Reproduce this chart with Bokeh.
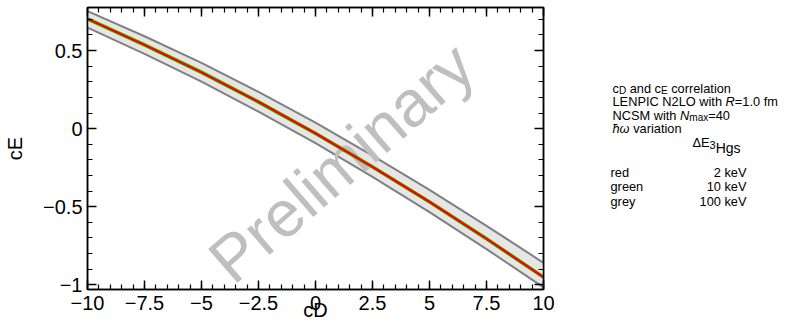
import math
import numpy as np
from bokeh.plotting import figure
from bokeh.layouts import row
from bokeh.models import Range1d, FixedTicker, LinearAxis, ColumnDataSource
from bokeh.core.properties import value
from bokeh.embed import file_html
from bokeh.resources import INLINE

# ---------------- data ----------------
cD = [-10, -7.5, -5, -2.5, 0, 2.5, 5, 7.5, 10]
cE_red = [0.703, 0.537, 0.361, 0.171, -0.030, -0.245, -0.469, -0.705, -0.951]
green_upper = [0.717, 0.551, 0.375, 0.185, -0.016, -0.231, -0.455, -0.691, -0.937]
green_lower = [0.689, 0.523, 0.347, 0.157, -0.044, -0.259, -0.483, -0.719, -0.965]
grey_upper = [0.753, 0.592, 0.421, 0.235, 0.038, -0.173, -0.392, -0.622, -0.859]
grey_lower = [0.647, 0.479, 0.301, 0.109, -0.093, -0.309, -0.534, -0.771, -1.017]

xtick_values = [-10, -7.5, -5, -2.5, 0, 2.5, 5, 7.5, 10]
xtick_labels = ["\u221210", "\u22127.5", "\u22125", "\u22122.5", "0", "2.5", "5", "7.5", "10"]
ytick_values = [-1, -0.5, 0, 0.5]
ytick_labels = ["\u22121", "\u22120.5", "0", "0.5"]
x_title = "cD"
y_title = "cE"

legend_names = ["red", "green", "grey"]
legend_values = ["2 keV", "10 keV", "100 keV"]
watermark = "Preliminary"

# ---------------- main plot ----------------
FONT = "Liberation Sans"
p1 = figure(width=560, height=324, x_range=Range1d(-10, 10), y_range=Range1d(-1.030, 0.776),
            output_backend="svg", toolbar_location=None,
            min_border_left=87, min_border_right=17, min_border_top=7, min_border_bottom=35)
p1.xgrid.visible = False
p1.ygrid.visible = False
p1.outline_line_color = "black"
p1.outline_line_width = 1.5

xminor = [float(v) for v in np.round(np.arange(-10, 10.001, 0.5), 2)]
yminor = [float(v) for v in np.round(np.arange(-1.0, 0.7501, 0.1), 2)]
xticker = FixedTicker(ticks=xtick_values, minor_ticks=xminor)
yticker = FixedTicker(ticks=ytick_values, minor_ticks=yminor)
xover = {v: l for v, l in zip(xtick_values, xtick_labels)}
yover = {v: l for v, l in zip(ytick_values, ytick_labels)}


def style_axis(ax, ticker, over, show, standoff):
    ax.ticker = ticker
    ax.major_label_overrides = over
    ax.axis_line_color = "black"
    ax.axis_line_width = 1.5
    ax.major_tick_in = 9
    ax.major_tick_out = 0
    ax.minor_tick_in = 5
    ax.minor_tick_out = 0
    ax.major_tick_line_color = "black"
    ax.minor_tick_line_color = "black"
    ax.major_tick_line_width = 1.5
    ax.minor_tick_line_width = 1.2
    ax.major_label_text_font = FONT
    ax.major_label_text_color = "black"
    ax.axis_label_text_font = FONT
    ax.axis_label_text_font_style = "normal"
    ax.axis_label_text_font_size = "20px"
    ax.axis_label_text_color = "black"
    if show:
        ax.major_label_text_font_size = "20px"
        ax.major_label_standoff = standoff
    else:
        ax.major_label_text_font_size = "0px"
        ax.major_label_standoff = 0


style_axis(p1.xaxis[0], xticker, xover, True, 6)
style_axis(p1.yaxis[0], yticker, yover, True, 5)
p1.xaxis[0].axis_label = x_title
p1.xaxis[0].axis_label_standoff = -14
p1.yaxis[0].axis_label = y_title
p1.yaxis[0].axis_label_standoff = 14
top = LinearAxis()
right = LinearAxis()
style_axis(top, xticker, xover, False, 0)
style_axis(right, yticker, yover, False, 0)
p1.add_layout(top, "above")
p1.add_layout(right, "right")

src = ColumnDataSource(dict(cD=cD, red=cE_red, gu=grey_upper, gl=grey_lower,
                            nu=green_upper, nl=green_lower))
p1.varea(x="cD", y1="gl", y2="gu", source=src, fill_color="#e6e6e6")
p1.line(x="cD", y="gu", source=src, line_color="#808080", line_width=2)
p1.line(x="cD", y="gl", source=src, line_color="#808080", line_width=2)

wm_x, wm_y = 1.14, -0.217
p1.text(x=[wm_x], y=[wm_y], text=[watermark], angle=math.radians(41),
        text_font=value(FONT), text_font_size=value("65px"), text_color="#bfbfbf",
        text_align="center", text_baseline="middle")

p1.varea(x="cD", y1="nl", y2="nu", source=src, fill_color="#00ff00")
p1.line(x="cD", y="red", source=src, line_color="#ff0000", line_width=2.5)

# ---------------- side panel with the description ----------------
# its frame is aligned with the main frame (page y 7 .. 289)
p2 = figure(width=240, height=324, x_range=Range1d(560, 800), y_range=Range1d(289, 7),
            output_backend="svg", toolbar_location=None,
            x_axis_location=None, y_axis_location=None,
            min_border=0, min_border_left=0, min_border_right=0,
            min_border_top=7, min_border_bottom=35)
p2.outline_line_color = None
p2.xgrid.visible = False
p2.ygrid.visible = False

WID = {' ': 278, 'a': 556, 'b': 556, 'c': 500, 'd': 556, 'e': 556, 'f': 278, 'g': 556,
       'h': 556, 'i': 222, 'k': 500, 'l': 222, 'm': 833, 'n': 556, 'o': 556, 'r': 333,
       's': 500, 't': 278, 'v': 500, 'w': 722, 'x': 500, 'y': 500, 'A': 667, 'C': 722,
       'D': 722, 'E': 667, 'H': 722, 'I': 278, 'L': 556, 'M': 833, 'N': 722, 'O': 778,
       'P': 667, 'R': 722, 'S': 667, 'V': 667, '.': 278, '=': 584, '\u0394': 668,
       '\u0127': 556, '\u03c9': 781}


def tw(s, size):
    return sum(WID.get(ch, 556) for ch in s) * size / 1000.0


seg = dict(x=[], y=[], text=[], size=[], style=[])


def add(text, x, y, size, style):
    seg["x"].append(x)
    seg["y"].append(y)
    seg["text"].append(text)
    seg["size"].append(f"{size}px")
    seg["style"].append(style)


def run(x0, segs):
    x = x0
    for text, size, by, style in segs:
        lead = len(text) - len(text.lstrip(" "))
        shown = text.strip(" ")
        if shown:
            add(shown, x + tw(" " * lead, size), by, size, style)
        x += tw(text, size)


F, S = 12.8, 10
X0 = 612
run(X0, [("c", F, 87.5, "normal"), ("D", S, 90, "normal"), (" and c", F, 87.5, "normal"),
         ("E", S, 90, "normal"), (" correlation", F, 87.5, "normal")])
run(X0, [("LENPIC N2LO with ", F, 101, "normal"), ("R", F, 101, "italic"),
         ("=1.0 fm", F, 101, "normal")])
run(X0, [("NCSM with ", F, 114.5, "normal"), ("N", F, 114.5, "italic"),
         ("max", S, 117.2, "normal"), ("=40", F, 114.5, "normal")])
run(X0, [("\u0127\u03c9", F, 128, "italic"), (" variation", F, 128, "normal")])
run(692, [("\u0394E", F, 142, "normal"), ("3", 11, 144, "normal"),
          ("Hgs", 14, 147.5, "normal")])
for name, by in zip(legend_names, [171.7, 186.3, 201.0]):
    add(name, 610, by, F, "normal")

p2.text(x="x", y="y", text="text", text_font_size="size", text_font_style="style",
        source=ColumnDataSource(seg), text_font=value(FONT), text_color="black",
        text_align="left", text_baseline="alphabetic")
p2.text(x=[746, 746, 746], y=[171.7, 186.3, 201.0], text=legend_values,
        text_font=value(FONT), text_font_size=value(f"{F}px"), text_color="black",
        text_align="right", text_baseline="alphabetic")

p = row(p1, p2, spacing=0)
open("out.html", "w").write(file_html(p, INLINE))
